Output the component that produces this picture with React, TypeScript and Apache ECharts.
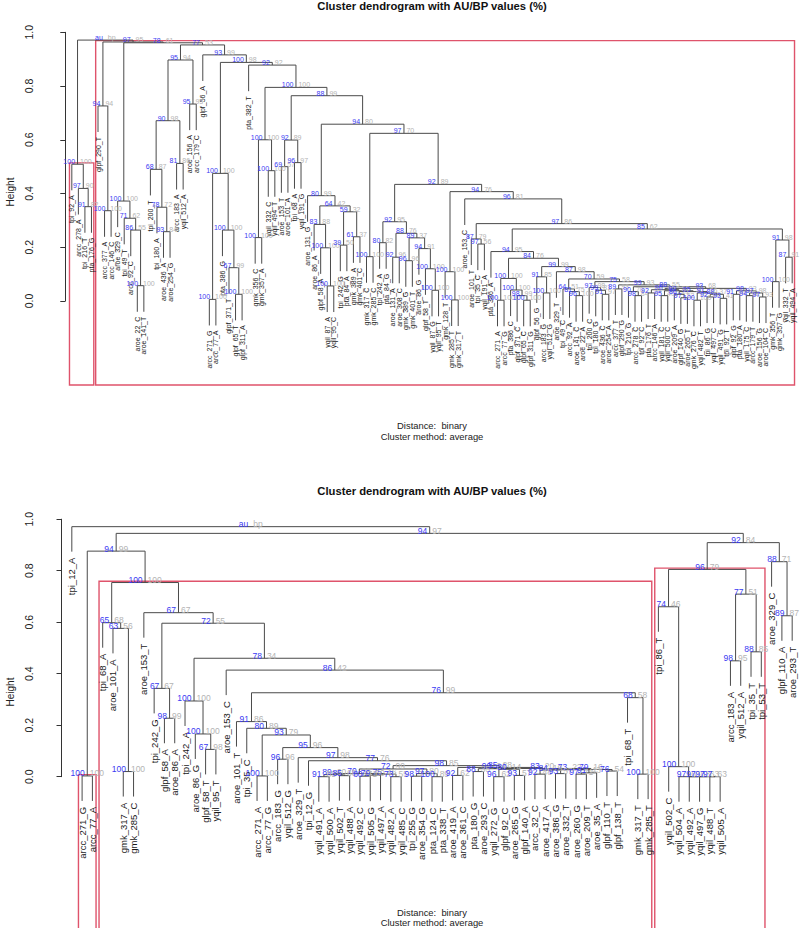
import React, { useEffect, useRef } from "react";
import * as echarts from "echarts";

// [node, left child, right child, height, AU %, BP %]  (leaf = any name that is not a node)
type Merge = [string, string, string, number, number | null, number | null];

const topMerges: Merge[] = [
  ["root", "N1", "X", 0.971, null, null],
  ["N1", "tpi_92_A", "N2", 0.509, 100, 100],
  ["N2", "arcc_278_A", "N3", 0.419, 97, 90],
  ["N3", "tpi_216_T", "pta_176_G", 0.351, 91, 82],
  ["X", "N94", "W", 0.964, 97, 95],
  ["N94", "glpf_290_T", "NA", 0.726, 94, 94],
  ["NA", "arcc_377_A", "arcc_146_C", 0.336, 100, 100],
  ["W", "NB", "V", 0.961, 78, 61],
  ["NB", "aroe_329_C", "N71", 0.372, 100, 100],
  ["N71", "tpi_49_T", "N86", 0.308, 71, 62],
  ["N86", "arcc_92_C", "N100c", 0.264, 86, 55],
  ["N100c", "aroe_22_C", "aroe_141_T", 0.057, 100, 100],
  ["V", "V95", "V93", 0.953, 77, 53],
  ["V95", "N90", "N95b", 0.897, 95, 94],
  ["N90", "N68", "N81", 0.671, 90, 98],
  ["N68", "tpi_200_T", "N78", 0.49, 68, 87],
  ["N78", "tpi_180_A", "N93", 0.349, 78, 72],
  ["N93", "aroe_436_A", "aroe_254_G", 0.258, 93, 84],
  ["N81", "arcc_183_A", "yqil_512_A", 0.512, 81, 86],
  ["N95b", "aroe_156_A", "arcc_179_C", 0.733, 95, 93],
  ["V93", "glpf_56_A", "N100d", 0.916, 93, 99],
  ["N100d", "N100e", "N92", 0.888, 100, 98],
  ["N100e", "N100f", "N100g", 0.475, 100, 100],
  ["N100f", "arcc_271_G", "arcc_77_A", 0.006, 100, 100],
  ["N100g", "pta_386_G", "N67", 0.264, 100, 100],
  ["N67", "glpf_371_T", "N100h", 0.124, 67, 99],
  ["N100h", "glpf_65_T", "glpf_311_A", 0.025, 100, 100],
  ["N92", "pta_382_T", "N100i", 0.878, 92, 92],
  ["N100i", "N100j", "N88", 0.795, 100, 100],
  ["N100j", "N100k", "N100l", 0.6, 100, 100],
  ["N100k", "gmk_356_C", "gmk_357_A", 0.236, 100, 100],
  ["N100l", "yqil_332_C", "yqil_494_T", 0.485, 100, 100],
  ["N88", "N92b", "N94c", 0.764, 88, 99],
  ["N92b", "N69", "N96", 0.599, 92, 89],
  ["N69", "aroe_153_T", "aroe_101_A", 0.5, 69, 57],
  ["N96", "tpi_68_A", "yqil_191_G", 0.515, 96, 97],
  ["N94c", "N80", "N97", 0.658, 94, 80],
  ["N80", "aroe_131_G", "N64", 0.392, 80, 99],
  ["N64", "N83", "N59", 0.354, 64, 42],
  ["N83", "aroe_86_A", "N100n", 0.285, 83, 88],
  ["N100n", "glpf_58_A", "N100o", 0.198, 100, 100],
  ["N100o", "yqil_87_A", "yqil_95_C", 0.056, 100, 100],
  ["N59", "N39", "N61", 0.332, 59, 32],
  ["N39", "tpi_242_G", "pta_84_A", 0.208, 39, 50],
  ["N61", "gmk_389_A", "gmk_401_C", 0.239, 61, 37],
  ["N97", "N100p", "N92c", 0.624, 97, 70],
  ["N100p", "gmk_317_C", "gmk_285_C", 0.165, 100, 100],
  ["N92c", "N92d", "N94d", 0.434, 92, 89],
  ["N92d", "N80b", "N88b", 0.295, 92, 95],
  ["N80b", "tpi_242_A", "pta_84_G", 0.217, 80, 82],
  ["N88b", "N92e", "N89", 0.252, 88, 76],
  ["N92e", "aroe_131_A", "aroe_308_C", 0.163, 92, 96],
  ["N89", "N96f", "N94e", 0.235, 89, 37],
  ["N96f", "gmk_389_G", "gmk_401_T", 0.15, 96, 96],
  ["N94e", "aroe_86_G", "N100t", 0.195, 94, 91],
  ["N100t", "glpf_58_T", "N100u", 0.12, 100, 100],
  ["N100u", "yqil_87_G", "yqil_95_T", 0.04, 100, 100],
  ["N94d", "N100r", "N96e", 0.407, 94, 76],
  ["N100r", "gmk_128_T", "N100s", 0.109, 100, 100],
  ["N100s", "gmk_285_T", "gmk_317_T", 0.004, 100, 100],
  ["N96e", "aroe_153_C", "N97f", 0.38, 96, 81],
  ["N97f", "N87", "N85", 0.288, 97, 86],
  ["N87", "aroe_101_T", "N97g", 0.231, 87, 79],
  ["N97g", "tpi_35_C", "yqil_191_A", 0.212, 97, 56],
  ["N85", "N94f", "N91", 0.268, 85, 62],
  ["N94f", "pta_386_A", "N84", 0.184, 94, 95],
  ["N84", "N100v", "N99", 0.159, 84, 76],
  ["N100v", "N100w", "N100x", 0.084, 100, 100],
  ["N100w", "arcc_271_A", "arcc_77_G", 0.003, 100, 100],
  ["N100x", "pta_386_C", "N98x", 0.041, 100, 100],
  ["N98x", "glpf_371_C", "N100y2", 0.02, 98, 99],
  ["N100y2", "glpf_65_C", "glpf_311_G", 0.003, 100, 100],
  ["N99", "N91b", "N87b", 0.128, 99, 99],
  ["N91b", "glpf_56_G", "N100y", 0.09, 91, 85],
  ["N100y", "arcc_183_G", "yqil_512_G", 0.03, 100, 100],
  ["N87b", "aroe_329_T", "N70", 0.109, 87, 98],
  ["N70", "A64", "c1", 0.082, 70, 59],
  ["A64", "tpi_49_C", "A81", 0.045, 64, 51],
  ["A81", "arcc_92_A", "A96", 0.035, 81, 75],
  ["A96", "aroe_141_C", "aroe_22_A", 0.02, 96, 100],
  ["c1", "B97", "c2", 0.072, 75, 58],
  ["B97", "tpi_200_C", "B99", 0.05, 97, 98],
  ["B99", "tpi_180_G", "B91", 0.04, 99, 81],
  ["B91", "aroe_436_C", "aroe_254_A", 0.025, 91, 97],
  ["c2", "c2a", "c3", 0.06, 99, 93],
  ["c2a", "arcc_377_T", "glpf_290_G", 0.045, 89, 93],
  ["c3", "c3a", "c4", 0.053, 88, 55],
  ["c3a", "tpi_216_G", "c3b", 0.035, 90, 70],
  ["c3b", "arcc_278_C", "tpi_92_C", 0.02, 98, 84],
  ["c4", "c4a", "c5", 0.047, 93, 68],
  ["c4a", "c4b", "c4l", 0.042, 96, 45],
  ["c4b", "pta_176_T", "arcc_146_A", 0.03, 92, 33],
  ["c4l", "c4d", "c4k", 0.038, 90, 22],
  ["c4d", "yqil_181_C", "yqil_500_C", 0.02, 95, 40],
  ["c4k", "c4e", "c4j", 0.035, 85, 30],
  ["c4e", "aroe_209_A", "c4f", 0.025, 86, 21],
  ["c4f", "glpf_140_G", "aroe_265_T", 0.012, 97, 52],
  ["c4j", "c4g", "c4i", 0.03, 91, 26],
  ["c4g", "gmk_276_C", "yqil_482_T", 0.003, 100, 100],
  ["c4i", "c4h", "c4i2", 0.025, 88, 37],
  ["c4h", "tpi_86_G", "yqil_497_C", 0.015, 92, 60],
  ["c4i2", "yqil_491_G", "tpi_92_T", 0.01, 93, 41],
  ["c5", "c5a", "c6", 0.038, 98, 93],
  ["c5a", "glpf_92_G", "pta_180_A", 0.025, 91, 43],
  ["c6", "c6a", "c6b", 0.03, 97, 98],
  ["c6a", "yqil_175_C", "arcc_179_T", 0.02, 94, 62],
  ["c6b", "aroe_156_G", "aroe_104_C", 0.015, 97, 93],
  ["N91", "N100z", "N87c", 0.227, 91, 98],
  ["N100z", "gmk_356_T", "gmk_357_G", 0.072, 100, 100],
  ["N87c", "yqil_332_T", "yqil_494_A", 0.163, 87, 91],
];

const bottomMerges: Merge[] = [
  ["root", "tpi_12_A", "NA", 0.971, null, null],
  ["NA", "NB", "NR", 0.945, 94, 97],
  ["NB", "NC", "ND", 0.876, 94, 99],
  ["NC", "arcc_271_G", "arcc_77_A", 0.003, 100, 100],
  ["ND", "NE", "NF", 0.754, 100, 100],
  ["NE", "tpi_68_A", "NG", 0.598, 65, 68],
  ["NG", "aroe_101_A", "NH", 0.576, 63, 56],
  ["NH", "gmk_317_A", "gmk_285_C", 0.02, 100, 100],
  ["NF", "aroe_153_T", "NI", 0.637, 67, 67],
  ["NI", "NJ", "NK", 0.596, 72, 55],
  ["NJ", "tpi_242_G", "NL", 0.343, 67, 67],
  ["NL", "glpf_58_A", "aroe_86_A", 0.227, 98, 99],
  ["NK", "NM", "NN", 0.46, 78, 34],
  ["NM", "tpi_242_A", "NO", 0.294, 100, 100],
  ["NO", "aroe_86_G", "NP", 0.166, 100, 100],
  ["NP", "glpf_58_T", "yqil_95_T", 0.106, 67, 98],
  ["NN", "aroe_153_C", "NQ", 0.414, 86, 42],
  ["NQ", "NS", "NT", 0.326, 76, 99],
  ["NS", "aroe_101_T", "NV", 0.214, 91, 86],
  ["NV", "tpi_35_C", "NW", 0.188, 80, 89],
  ["NW", "NX", "NY", 0.162, 93, 79],
  ["NX", "arcc_271_A", "arcc_77_G", 0.003, 100, 100],
  ["NY", "NZ", "NAA", 0.113, 95, 96],
  ["NZ", "arcc_183_G", "yqil_512_G", 0.068, 96, 96],
  ["NAA", "aroe_329_T", "NAB", 0.074, 97, 98],
  ["NAB", "tpi_12_G", "N98", 0.062, 77, 76],
  ["N98", "N72", "q14", 0.043, 98, 85],
  ["N72", "yq", "t97", 0.03, 72, 99],
  ["yq", "yab", "yde", 0.012, 70, 38],
  ["yab", "ya", "yb", 0.008, 89, 60],
  ["ya", "yqil_491_A", "yqil_500_A", 0.0, 91, 85],
  ["yb", "yqil_502_T", "yqil_488_A", 0.004, 85, 68],
  ["yde", "yd", "ye", 0.01, 75, 46],
  ["yd", "yc", "yqil_497_A", 0.006, 79, 60],
  ["yc", "yqil_492_C", "yqil_505_G", 0.002, 80, 71],
  ["ye", "yqil_482_A", "yqil_485_C", 0.0, 73, 55],
  ["t97", "t98", "t100", 0.012, 97, 80],
  ["t98", "tpi_255_G", "aroe_354_G", 0.002, 98, 71],
  ["t100", "pta_124_C", "pta_338_T", 0.0, 100, 89],
  ["q14", "t92", "R", 0.036, 85, 28],
  ["t92", "aroe_419_A", "aroe_361_C", 0.005, 92, 62],
  ["R", "q5", "q13", 0.032, 83, 20],
  ["q5", "q1", "q4", 0.031, 90, 24],
  ["q1", "pta_180_G", "aroe_293_C", 0.02, 88, 35],
  ["q4", "q2", "q3", 0.029, 80, 14],
  ["q2", "yqil_272_G", "glpf_92_C", 0.0, 96, 62],
  ["q3", "aroe_265_G", "glpf_140_A", 0.005, 93, 57],
  ["q13", "q11", "q12", 0.028, 79, 16],
  ["q11", "q8", "q10", 0.027, 73, 22],
  ["q8", "q6", "q7", 0.026, 84, 19],
  ["q6", "arcc_32_C", "aroe_417_A", 0.01, 92, 48],
  ["q7", "aroe_386_G", "aroe_332_T", 0.012, 93, 57],
  ["q10", "q9", "aroe_35_A", 0.015, 91, 43],
  ["q9", "aroe_260_G", "aroe_209_T", 0.01, 97, 71],
  ["q12", "glpf_110_T", "glpf_138_T", 0.022, 76, 54],
  ["NT", "tpi_68_T", "NU", 0.307, 68, 58],
  ["NU", "gmk_317_T", "gmk_285_T", 0.01, 100, 100],
  ["NR", "N96", "N88", 0.909, 92, 84],
  ["N96", "N74", "N77", 0.805, 96, 79],
  ["N74", "tpi_86_T", "N100b", 0.66, 74, 46],
  ["N100b", "yqil_502_C", "y97a", 0.039, 100, 100],
  ["y97a", "yqil_504_A", "y97b", 0.0, 97, 63],
  ["y97b", "yqil_492_A", "y97c", 0.0, 97, 63],
  ["y97c", "yqil_497_G", "y97d", 0.0, 97, 63],
  ["y97d", "yqil_488_T", "yqil_505_A", 0.0, 97, 63],
  ["N77", "N98b", "N88b", 0.709, 77, 51],
  ["N98b", "arcc_183_A", "yqil_512_A", 0.45, 98, 95],
  ["N88b", "tpi_35_T", "tpi_53_T", 0.485, 88, 85],
  ["N88", "aroe_329_C", "N89", 0.835, 88, 71],
  ["N89", "glpf_110_A", "aroe_293_T", 0.625, 89, 87],
];

const chartTitle = "Cluster dendrogram with AU/BP values (%)";
const distanceText = "Distance:  binary";
const methodText = "Cluster method: average";
const yAxisTitle = "Height";
const auAlpha = 95; // pvrect threshold (%)

const FONT = '"Liberation Sans", Arial, Helvetica, sans-serif';
const LINE = "#4a4a4a";
const AU_COLOR = "#3a3af2";
const BP_COLOR = "#b4b4b4";
const RECT_COLOR = "#DF536B";
const TEXT = "#1a1a1a";

// the R plot region runs from x=43 to x=821 and is cropped at the 800px page edge
const PLOT_LEFT = 43;
const PLOT_FULL_WIDTH = 778;
const PAGE_WIDTH = 800;

const panelLayout = [
  { gridTop: 32.3, gridHeight: 268.7, leafFont: 7, pvFont: 7, labelGap: 5, rectBottom: -0.3126, titleY: 6, heightY: 192, distY: 425, methodY: 436 },
  { gridTop: 519.2, gridHeight: 257.5, leafFont: 9.5, pvFont: 8.5, labelGap: 6, rectBottom: -0.7, titleY: 491, heightY: 692, distY: 912, methodY: 922 },
];

function buildTree(merges: Merge[]) {
  const byId = new Map<string, Merge>();
  merges.forEach((m) => byId.set(m[0], m));
  const childIds = new Set<string>();
  merges.forEach((m) => { childIds.add(m[1]); childIds.add(m[2]); });
  const root = merges.find((m) => !childIds.has(m[0]))!;
  const leaves: string[] = [];
  const leafParentH: number[] = [];
  const xOf = new Map<string, number>();
  const span = new Map<string, [number, number]>();
  const visit = (id: string, parentH: number): number => {
    const m = byId.get(id);
    if (!m) {
      leaves.push(id);
      leafParentH.push(parentH);
      const x = leaves.length;
      xOf.set(id, x);
      span.set(id, [x, x]);
      return x;
    }
    const xl = visit(m[1], m[3]);
    const xr = visit(m[2], m[3]);
    const x = (xl + xr) / 2;
    xOf.set(id, x);
    span.set(id, [span.get(m[1])![0], span.get(m[2])![1]]);
    return x;
  };
  visit(root[0], root[3]);
  const maxH = Math.max(...merges.map((m) => m[3]));
  const hang = 0.1 * maxH;
  const childH = (id: string, h: number) => (byId.has(id) ? byId.get(id)![3] : h - hang);
  const links = merges.map((m) => [xOf.get(m[1])!, childH(m[1], m[3]), xOf.get(m[2])!, childH(m[2], m[3]), m[3]]);
  const leafItems = leaves.map((_, i) => [i + 1, leafParentH[i] - hang]);
  const pvItems = merges.map((m) => [xOf.get(m[0])!, m[3]]);
  const pvText = merges.map((m) => [m[4] == null ? "au" : String(m[4]), m[5] == null ? "bp" : String(m[5])]);
  const rects: number[][] = [];
  const taken = new Set<number>();
  merges
    .filter((m) => m !== root)
    .slice()
    .sort((a, b) => b[3] - a[3])
    .forEach((m) => {
      if ((m[4] ?? 0) >= auAlpha) {
        const [a, b] = span.get(m[0])!;
        let overlap = false;
        for (let k = a; k <= b; k++) if (taken.has(k)) overlap = true;
        if (!overlap) rects.push([a, b, m[3]]);
        for (let k = a; k <= b; k++) taken.add(k);
      }
    });
  return { leaves, links, leafItems, pvItems, pvText, rects, n: leaves.length };
}

function buildOption() {
  const grid: any[] = [];
  const xAxis: any[] = [];
  const yAxis: any[] = [];
  const series: any[] = [];
  const graphic: any[] = [];
  const visibleWidth = PAGE_WIDTH - PLOT_LEFT;
  [topMerges, bottomMerges].forEach((merges, i) => {
    const L = panelLayout[i];
    const t = buildTree(merges);
    const n = t.n;
    const xmin = 1 - 0.04 * (n - 1);
    const xmax = n + 0.04 * (n - 1);
    const mx = (xmax - xmin) / n / 3;
    const my = 0.005;
    const xmaxVisible = xmin + ((xmax - xmin) * visibleWidth) / PLOT_FULL_WIDTH;
    grid.push({ left: PLOT_LEFT, top: L.gridTop, width: visibleWidth, height: L.gridHeight });
    xAxis.push({ type: "value", gridIndex: i, min: xmin, max: xmaxVisible, show: false });
    yAxis.push({
      type: "value", gridIndex: i, min: 0, max: 1, interval: 0.2,
      axisLine: { show: true, lineStyle: { color: "#333", width: 1 } },
      axisTick: { show: true, length: 5, lineStyle: { color: "#333" } },
      axisLabel: { rotate: 90, margin: 9, fontSize: 10.5, fontFamily: FONT, color: "#222", formatter: (v: number) => v.toFixed(1) },
      splitLine: { show: false },
    });
    // red rectangles (clusters with AU >= 95)
    series.push({
      type: "custom", xAxisIndex: i, yAxisIndex: i, clip: false, silent: true, z: 1,
      data: t.rects.map((r) => [r[0] - mx, r[2] + my, r[1] + mx, L.rectBottom]),
      renderItem: (params: any, api: any) => {
        const p1 = api.coord([api.value(0), api.value(1)]);
        const p2 = api.coord([api.value(2), api.value(3)]);
        return { type: "rect", shape: { x: p1[0], y: p1[1], width: p2[0] - p1[0], height: p2[1] - p1[1] }, style: { stroke: RECT_COLOR, fill: "none", lineWidth: 1.4 } };
      },
    });
    // dendrogram links
    series.push({
      type: "custom", xAxisIndex: i, yAxisIndex: i, clip: false, silent: true, z: 2,
      data: t.links,
      renderItem: (params: any, api: any) => {
        const p0 = api.coord([api.value(0), api.value(1)]);
        const p1 = api.coord([api.value(0), api.value(4)]);
        const p2 = api.coord([api.value(2), api.value(4)]);
        const p3 = api.coord([api.value(2), api.value(3)]);
        return { type: "polyline", shape: { points: [p0, p1, p2, p3] }, style: { stroke: LINE, lineWidth: 1, fill: null } };
      },
    });
    // leaf labels
    series.push({
      type: "custom", xAxisIndex: i, yAxisIndex: i, clip: false, silent: true, z: 3,
      data: t.leafItems,
      renderItem: (params: any, api: any) => {
        const p = api.coord([api.value(0), api.value(1)]);
        return {
          type: "text", x: p[0], y: p[1] + L.labelGap, rotation: Math.PI / 2,
          style: { text: t.leaves[params.dataIndex], font: `${L.leafFont}px ${FONT}`, fill: TEXT, align: "right", verticalAlign: "middle" },
        };
      },
    });
    // AU / BP values
    series.push({
      type: "custom", xAxisIndex: i, yAxisIndex: i, clip: false, silent: true, z: 4,
      data: t.pvItems,
      renderItem: (params: any, api: any) => {
        const p = api.coord([api.value(0), api.value(1)]);
        const [au, bp] = t.pvText[params.dataIndex];
        return {
          type: "group",
          children: [
            { type: "text", x: p[0] - 2.5, y: p[1] - 2.5, style: { text: au, font: `${L.pvFont}px ${FONT}`, fill: AU_COLOR, align: "right", verticalAlign: "middle" } },
            { type: "text", x: p[0] + 2.5, y: p[1] - 2.5, style: { text: bp, font: `${L.pvFont}px ${FONT}`, fill: BP_COLOR, align: "left", verticalAlign: "middle" } },
          ],
        };
      },
    });
    graphic.push(
      { type: "text", x: 432, y: L.titleY, style: { text: chartTitle, font: `bold 11.25px ${FONT}`, fill: "#111", align: "center", verticalAlign: "middle" } },
      { type: "text", x: 10, y: L.heightY, rotation: Math.PI / 2, style: { text: yAxisTitle, font: `10px ${FONT}`, fill: "#222", align: "center", verticalAlign: "middle" } },
      { type: "text", x: 432, y: L.distY, style: { text: distanceText, font: `9.4px ${FONT}`, fill: "#222", align: "center", verticalAlign: "middle" } },
      { type: "text", x: 432, y: L.methodY, style: { text: methodText, font: `9.4px ${FONT}`, fill: "#222", align: "center", verticalAlign: "middle" } },
    );
  });
  return { animation: false, backgroundColor: "#ffffff", grid, xAxis, yAxis, series, graphic };
}

export default function App() {
  const ref = useRef<HTMLDivElement>(null);
  useEffect(() => {
    document.body.style.margin = "0";
    const chart = echarts.init(ref.current!, null, { renderer: "svg" });
    chart.setOption(buildOption() as any);
    return () => chart.dispose();
  }, []);
  return <div ref={ref} style={{ width: PAGE_WIDTH, height: 928, background: "#fff" }} />;
}
